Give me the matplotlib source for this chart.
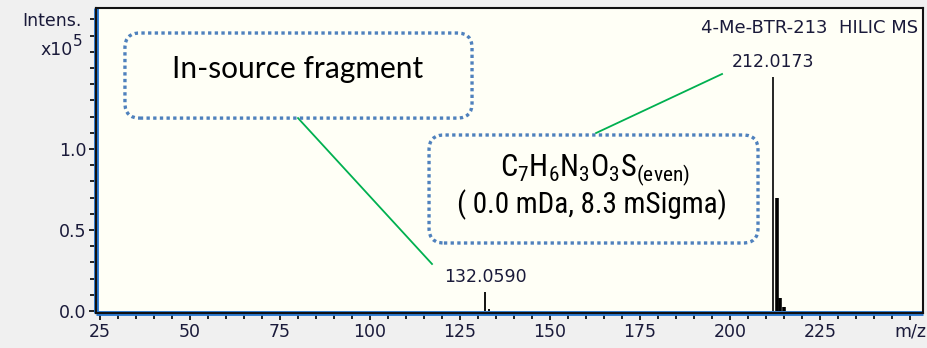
import numpy as np
import matplotlib.pyplot as plt
from matplotlib import font_manager
from matplotlib.patches import FancyBboxPatch
from matplotlib.lines import Line2D

# pick a narrow font for the formula box if one is installed
installed = {f.name for f in font_manager.fontManager.ttflist}
narrow, narrow_size = "Roboto", 18
for name, size in [("Liberation Sans Narrow", 20), ("Roboto Condensed", 21)]:
    if name in installed:
        narrow, narrow_size = name, size
        break

plt.rcParams['mathtext.fontset'] = 'custom'
plt.rcParams['mathtext.rm'] = narrow
plt.rcParams['mathtext.it'] = narrow

# spectrum sticks (m/z, intensity x1e5)
mz = [132.059, 133.06, 212.0173, 213.02, 214.01, 215.01]
intens = [0.117, 0.012, 1.444, 0.70, 0.08, 0.025]
peak_labels = {132.059: "132.0590", 212.0173: "212.0173"}

xticks = [25, 50, 75, 100, 125, 150, 175, 200, 225, 250]
xticklabels = ["25", "50", "75", "100", "125", "150", "175", "200", "225", "m/z"]
yticks = [0.0, 0.5, 1.0]

fig = plt.figure(figsize=(9.28, 3.48), dpi=100, facecolor="#f0f0f0")
ax = fig.add_axes([96/928, 1-313/348, 827/928, 305/348])
ax.set_facecolor("#fffff6")

ax.vlines(mz[:2], 0, intens[:2], color="black", lw=1.3)
ax.vlines(mz[2:], 0, intens[2:], color="black", lw=[1.2, 2.6, 2.6, 2.6])

ax.set_xlim(23.9, 253.6)
ax.set_ylim(-0.012, 1.87)
ax.set_xticks(xticks)
ax.set_xticklabels(xticklabels)
ax.set_xticks(np.arange(25, 255, 5), minor=True)
ax.set_yticks(yticks)
ax.set_yticks(np.arange(0, 1.9, 0.1), minor=True)
ax.tick_params(which="both", direction="out", colors="black", labelcolor="#1a1a3a", labelsize=12.5, width=1.2)
ax.tick_params(which="major", length=5, pad=2)
ax.tick_params(which="minor", length=4)

for s in ax.spines.values():
    s.set_color("#111111")
    s.set_linewidth(1.5)
    s.set_zorder(5)
ax.add_line(Line2D([0, 1], [0, 0], transform=ax.transAxes, color="#2a78d0", lw=3.5, clip_on=False, zorder=4, solid_capstyle="butt"))
ax.add_line(Line2D([0, 0], [0, 1], transform=ax.transAxes, color="#2a78d0", lw=3.5, clip_on=False, zorder=4, solid_capstyle="butt"))

for m, lab in peak_labels.items():
    ax.annotate(lab, (m, intens[mz.index(m)]), xytext=(0, 6), textcoords="offset pixels",
                ha="center", va="bottom", fontsize=12.5, color="#1a1a3a")

ax.text(0.994, 0.935, "4-Me-BTR-213  HILIC MS", transform=ax.transAxes, ha="right", va="center",
        fontsize=13, color="#1a1a3a")

fig.text(52/928, 1-21/348, "Intens.", ha="center", va="center", fontsize=12.5, color="#1a1a3a")
fig.text(73/928, 1-50/348, "x10", ha="right", va="center", fontsize=12.5, color="#1a1a3a")
fig.text(73/928, 1-49/348, "5", ha="left", va="bottom", fontsize=11, color="#1a1a3a")

box_kw = dict(boxstyle="round,pad=0,rounding_size=0.018", transform=ax.transAxes, fill=False,
              edgecolor="#4f81bd", lw=2.4, linestyle=(0, (1, 1)), capstyle="butt", zorder=3,
              mutation_aspect=827/305)
ax.add_patch(FancyBboxPatch((0.035, 0.639), 0.4197, 0.279, **box_kw))
ax.add_patch(FancyBboxPatch((0.4027, 0.2295), 0.3978, 0.3541, **box_kw))

ax.add_line(Line2D([0.2443, 0.4063], [0.639, 0.1607], transform=ax.transAxes, color="#00b050", lw=1.3))
ax.add_line(Line2D([0.6046, 0.757], [0.590, 0.7836], transform=ax.transAxes, color="#00b050", lw=1.3))

ax.text(0.2443, 0.80, "In-source fragment", transform=ax.transAxes, ha="center", va="center",
        fontsize=21.5, family="Lato", color="black")
ax.text(0.6034, 0.47, r"$\mathrm{C_7H_6N_3O_3S}_{\mathrm{(even)}}$", transform=ax.transAxes,
        ha="center", va="center", fontsize=narrow_size + 1, color="black")
ax.text(0.600, 0.354, "( 0.0 mDa, 8.3 mSigma)", transform=ax.transAxes, ha="center", va="center",
        fontsize=narrow_size, family=narrow, color="black")

fig.savefig("out.png", dpi=100, facecolor=fig.get_facecolor())
